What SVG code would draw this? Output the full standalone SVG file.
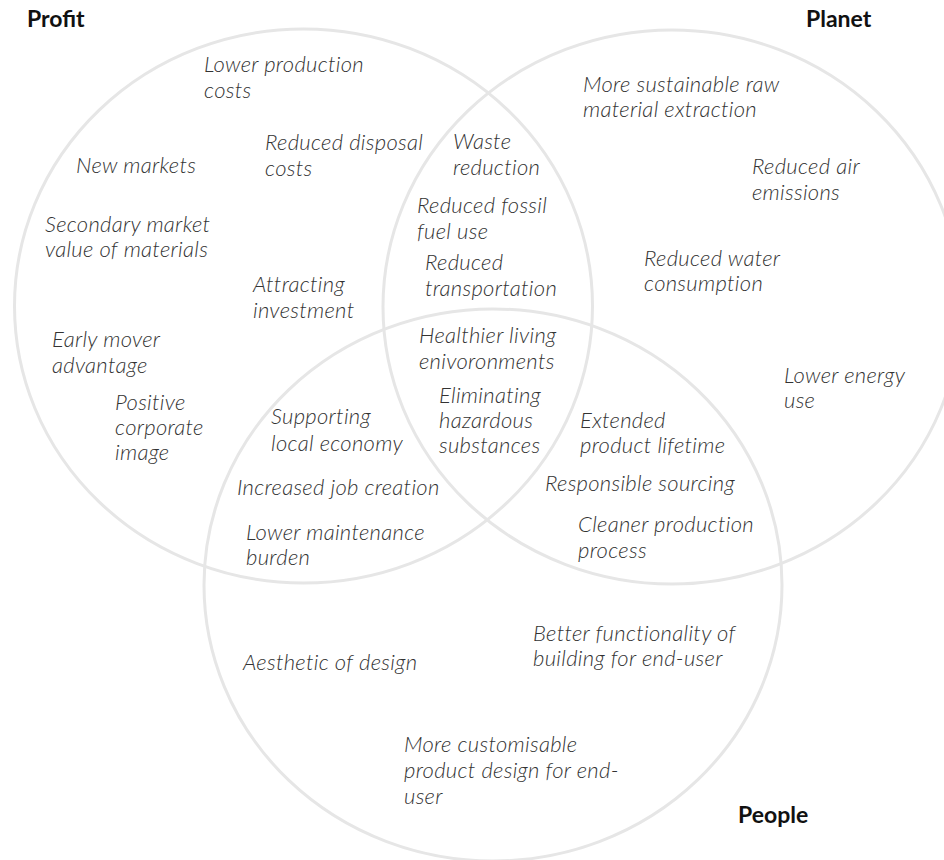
<svg xmlns="http://www.w3.org/2000/svg" width="944" height="860" viewBox="0 0 944 860">
<style>
.c{fill:none;stroke:#e6e6e6;stroke-width:3}
.t{font-family:"Lato","Open Sans",sans-serif;font-style:italic;font-weight:300;font-size:22px;letter-spacing:0.3px;fill:#333}
.h{font-family:"Lato","Liberation Sans",sans-serif;font-weight:700;font-size:23px;fill:#111}
</style>
<rect width="944" height="860" fill="#fff"/>
<g id="circles">
<ellipse id="profit-circle" class="c" cx="303.5" cy="306" rx="289" ry="277"/>
<ellipse id="planet-circle" class="c" cx="672" cy="307" rx="289" ry="277"/>
<ellipse id="people-circle" class="c" cx="493" cy="585" rx="289" ry="276"/>
</g>
<g id="titles">
<text class="h" x="27" y="27">Profit</text>
<text class="h" x="806" y="27">Planet</text>
<text class="h" x="738" y="823">People</text>
</g>
<g id="labels" class="t">
<text x="204" y="72">Lower production<tspan x="204" dy="26">costs</tspan></text>
<text x="265" y="150">Reduced disposal<tspan x="265" dy="26">costs</tspan></text>
<text x="453" y="149">Waste<tspan x="453" dy="26">reduction</tspan></text>
<text x="76" y="173">New markets</text>
<text x="583" y="92">More sustainable raw<tspan x="583" dy="25">material extraction</tspan></text>
<text x="752" y="174">Reduced air<tspan x="752" dy="26">emissions</tspan></text>
<text x="417" y="213">Reduced fossil<tspan x="417" dy="26">fuel use</tspan></text>
<text x="45" y="232">Secondary market<tspan x="45" dy="25">value of materials</tspan></text>
<text x="425" y="270">Reduced<tspan x="425" dy="26">transportation</tspan></text>
<text x="644" y="266">Reduced water<tspan x="644" dy="25">consumption</tspan></text>
<text x="253" y="292">Attracting<tspan x="253" dy="26">investment</tspan></text>
<text x="52" y="347">Early mover<tspan x="52" dy="26">advantage</tspan></text>
<text x="419" y="343">Healthier living<tspan x="419" dy="26">enivoronments</tspan></text>
<text x="784" y="383">Lower energy<tspan x="784" dy="25">use</tspan></text>
<text x="439" y="403">Eliminating<tspan x="439" dy="25">hazardous</tspan><tspan x="439" dy="25">substances</tspan></text>
<text x="271" y="424">Supporting<tspan x="271" dy="27">local economy</tspan></text>
<text x="115" y="410">Positive<tspan x="115" dy="25">corporate</tspan><tspan x="115" dy="25">image</tspan></text>
<text x="580" y="428">Extended<tspan x="580" dy="25">product lifetime</tspan></text>
<text x="237" y="495">Increased job creation</text>
<text x="545" y="491">Responsible sourcing</text>
<text x="578" y="532">Cleaner production<tspan x="578" dy="26">process</tspan></text>
<text x="246" y="540">Lower maintenance<tspan x="246" dy="25">burden</tspan></text>
<text x="533" y="641">Better functionality of<tspan x="533" dy="25">building for end-user</tspan></text>
<text x="243" y="670">Aesthetic of design</text>
<text x="404" y="752">More customisable<tspan x="404" dy="26">product design for end-</tspan><tspan x="404" dy="26">user</tspan></text>
</g>
</svg>
